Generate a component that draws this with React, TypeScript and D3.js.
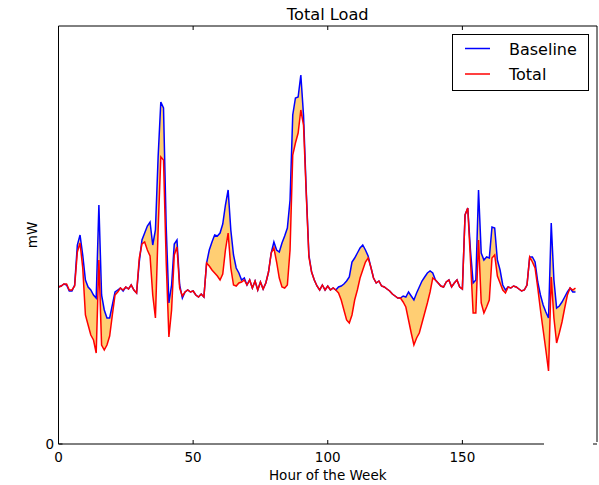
import React from "react";
import * as d3 from "d3";

const hours: number[] = Array.from({ length: 193 }, (_, i) => i);

const baseline: number[] = [
  157, 158, 160, 159, 153, 153, 159, 199, 209, 189, 164, 157, 154, 149, 146, 239, 149, 134, 126, 126,
  139, 152, 154, 156, 153, 157, 155, 159, 154, 151, 182, 204, 211, 218, 222, 199, 214, 287, 342, 336,
  217, 141, 159, 200, 204, 159, 146, 152, 154, 152, 153, 149, 147, 150, 147, 181, 194, 202, 209, 208,
  211, 220, 239, 254, 214, 189, 176, 171, 164, 166, 159, 164, 156, 163, 154, 162, 155, 161, 172, 191,
  202, 194, 192, 201, 208, 216, 244, 329, 346, 347, 369, 329, 254, 189, 172, 164, 158, 154, 159, 154,
  158, 154, 156, 154, 157, 158, 160, 163, 167, 182, 186, 191, 196, 199, 194, 188, 177, 166, 161, 163,
  158, 157, 155, 153, 150, 148, 146, 146, 148, 147, 152, 148, 144, 151, 157, 163, 167, 171, 173, 171,
  164, 161, 158, 157, 162, 164, 157, 161, 164, 157, 155, 229, 236, 194, 161, 164, 254, 191, 184, 187,
  186, 217, 216, 184, 174, 159, 154, 157, 156, 158, 157, 155, 153, 154, 159, 187, 187, 182, 162, 149,
  139, 132, 126, 221, 164, 136, 138, 142, 147, 152, 156, 152, 152,
];

const total: number[] = [
  157, 158, 160, 160, 154, 154, 158, 192, 201, 176, 129, 119, 109, 104, 91, 184, 99, 94, 99, 108,
  129, 149, 152, 156, 154, 157, 155, 159, 154, 151, 186, 200, 202, 194, 188, 149, 126, 214, 287, 284,
  182, 107, 134, 189, 197, 156, 148, 152, 154, 152, 153, 149, 147, 150, 147, 181, 178, 174, 171, 168,
  164, 170, 194, 211, 176, 159, 158, 161, 162, 164, 159, 164, 156, 163, 154, 162, 155, 161, 172, 191,
  196, 182, 166, 157, 156, 159, 194, 289, 301, 311, 334, 319, 251, 187, 172, 164, 158, 154, 159, 154,
  158, 154, 156, 154, 151, 144, 134, 124, 121, 129, 144, 154, 166, 174, 182, 186, 177, 166, 161, 163,
  158, 157, 155, 153, 150, 148, 146, 146, 142, 137, 124, 111, 99, 106, 111, 121, 131, 141, 152, 166,
  164, 161, 158, 157, 162, 164, 157, 161, 164, 157, 155, 229, 236, 184, 131, 131, 204, 141, 131, 137,
  144, 186, 189, 168, 161, 154, 151, 157, 156, 158, 157, 155, 153, 154, 159, 187, 182, 176, 156, 134,
  114, 94, 73, 167, 126, 101, 111, 122, 136, 149, 156, 154, 156,
];

const xTicks: number[] = [0, 50, 100, 150];
const yTicks: number[] = [0];
const seriesNames: string[] = ["Baseline", "Total"];
const seriesColors: string[] = ["#0000ff", "#ff0000"];

const W = 599;
const H = 485;
const left = 58.5;
const right = 597;
const top = 26;
const bottom = 444;
const font = "'DejaVu Sans', sans-serif";

export default function App() {
  const x = d3.scaleLinear().domain([0, 200]).range([left, right]);
  const y = d3.scaleLinear().domain([0, 418]).range([bottom, top]);

  const line = d3
    .line<number>()
    .x((_, i) => x(hours[i]))
    .y((d) => y(d));

  const area = d3
    .area<number>()
    .x((_, i) => x(hours[i]))
    .y0((_, i) => y(total[i]))
    .y1((d) => y(d));

  const legendItems = seriesNames.map((n, i) => ({ name: n, color: seriesColors[i] }));

  return (
    <svg
      width={W}
      height={H}
      style={{ position: "absolute", left: 0, top: 0, background: "#fff" }}
      fontFamily={font}
    >
      <rect x={0} y={0} width={W} height={H} fill="#fff" />
      <path d={area(baseline) || ""} fill="orange" fillOpacity={0.55} stroke="none" />
      <path d={line(baseline) || ""} fill="none" stroke={seriesColors[0]} strokeWidth={1.5} />
      <path d={line(total) || ""} fill="none" stroke={seriesColors[1]} strokeWidth={1.5} />

      {/* frame */}
      <line x1={left} y1={top} x2={right} y2={top} stroke="#000" strokeWidth={1} />
      <line x1={left} y1={top} x2={left} y2={bottom} stroke="#000" strokeWidth={1} />
      <line x1={right} y1={top} x2={right} y2={bottom - 2} stroke="#000" strokeWidth={1} />
      <line x1={left} y1={bottom} x2={544} y2={bottom} stroke="#000" strokeWidth={1} />

      {/* x ticks */}
      {xTicks.map((t) => (
        <g key={"x" + t}>
          <line x1={x(t)} x2={x(t)} y1={bottom} y2={bottom - 4} stroke="#000" />
          <line x1={x(t)} x2={x(t)} y1={top} y2={top + 4} stroke="#000" />
          <text x={x(t)} y={462} textAnchor="middle" fontSize={13.5} fill="#000">
            {t}
          </text>
        </g>
      ))}
      {/* y ticks */}
      {yTicks.map((t) => (
        <g key={"y" + t}>
          <line x1={left} x2={left + 4} y1={y(t)} y2={y(t)} stroke="#000" />
          <line x1={right} x2={right - 4} y1={y(t)} y2={y(t)} stroke="#000" />
          <text x={54} y={y(t) + 5} textAnchor="end" fontSize={13.5} fill="#000">
            {t}
          </text>
        </g>
      ))}

      <text x={(left + right) / 2} y={20} textAnchor="middle" fontSize={16.2} fill="#000">
        Total Load
      </text>
      <text x={(left + right) / 2} y={480} textAnchor="middle" fontSize={13.5} fill="#000">
        Hour of the Week
      </text>
      <text
        transform={`translate(37, 235) rotate(-90)`}
        textAnchor="middle"
        fontSize={13.5}
        fill="#000"
      >
        mW
      </text>

      {/* legend */}
      <rect x={452.5} y={34.5} width={136} height={56} fill="#fff" stroke="#000" strokeWidth={1} />
      {legendItems.map((it, i) => (
        <g key={it.name}>
          <line
            x1={465}
            x2={490}
            y1={48.5 + i * 25.5}
            y2={48.5 + i * 25.5}
            stroke={it.color}
            strokeWidth={1.5}
          />
          <text x={509} y={54.5 + i * 25.5} fontSize={16} fill="#000">
            {it.name}
          </text>
        </g>
      ))}
    </svg>
  );
}
